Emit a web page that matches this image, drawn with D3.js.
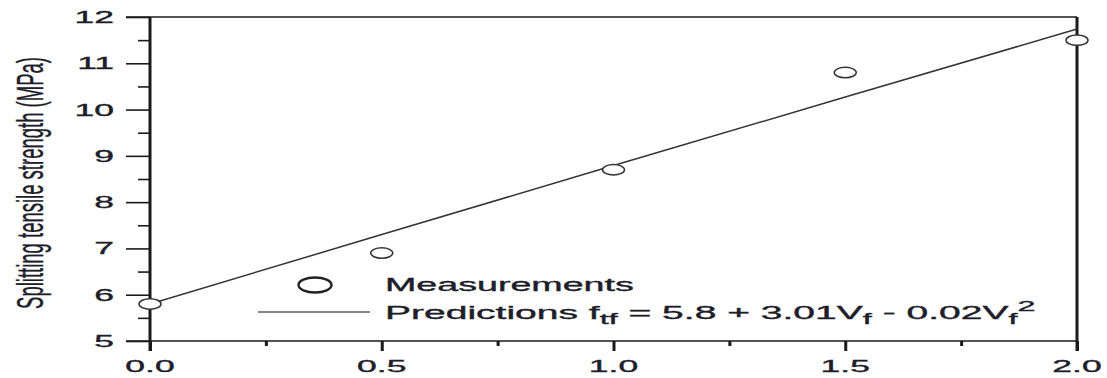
<!DOCTYPE html>
<html>
<head>
<meta charset="utf-8">
<script src="https://cdn.jsdelivr.net/npm/d3@7"></script>
<style>
  html, body { margin: 0; padding: 0; background: #fff; }
  svg { display: block; }
  text { font-family: "Liberation Sans", Arial, Helvetica, sans-serif; fill: #1e1e2a; stroke: #1e1e2a; stroke-width: 0.35; }
</style>
</head>
<body>
<svg id="chart" width="1107" height="378"></svg>
<script>
// Fibre volume fraction (%) and measured splitting tensile strength (MPa)
const fibreContent = [0.0, 0.5, 1.0, 1.5, 2.0];
const measured = [5.8, 6.9, 8.7, 10.8, 11.5];
// f_tf = 5.8 + 3.01 Vf - 0.02 Vf^2 evaluated at each fibre content
const predicted = [5.8, 7.3, 8.79, 10.27, 11.74];

const xMajorTicks = [0.0, 0.5, 1.0, 1.5, 2.0];
const xMinorTicks = [0.25, 0.75, 1.25, 1.75];
const xTickLabels = ["0.0", "0.5", "1.0", "1.5", "2.0"];
const yMajorTicks = [5, 6, 7, 8, 9, 10, 11, 12];
const yMinorTicks = [5.5, 6.5, 7.5, 8.5, 9.5, 10.5, 11.5];
const yTickLabels = ["5", "6", "7", "8", "9", "10", "11", "12"];

const SX = 2.15; // horizontal stretch of the printed figure

const svg = d3.select("#chart");
const x = d3.scaleLinear().domain([0, 2]).range([150, 1077]);
const y = d3.scaleLinear().domain([5, 12]).range([341, 17]);

const ink = "#1a1a1a";

// Y axis ticks (major and minor) drawn with d3 axes
const yMajor = svg.append("g").attr("transform", `translate(${x(0)},0)`)
  .call(d3.axisLeft(y).tickValues(yMajorTicks).tickSize(24).tickFormat(""));
const yMinor = svg.append("g").attr("transform", `translate(${x(0)},0)`)
  .call(d3.axisLeft(y).tickValues(yMinorTicks).tickSize(12).tickFormat(""));
// X axis ticks
const xMajor = svg.append("g").attr("transform", `translate(0,${y(5)})`)
  .call(d3.axisBottom(x).tickValues(xMajorTicks).tickSize(10).tickFormat(""));
const xMinor = svg.append("g").attr("transform", `translate(0,${y(5)})`)
  .call(d3.axisBottom(x).tickValues(xMinorTicks).tickSize(5).tickFormat(""));

[yMajor, yMinor].forEach(g => {
  g.select(".domain").remove();
  g.selectAll(".tick line").attr("stroke", ink).attr("stroke-width", 1.6);
});
[xMajor, xMinor].forEach(g => {
  g.select(".domain").remove();
  g.selectAll(".tick line").attr("stroke", ink).attr("stroke-width", 3);
});

// Frame: horizontal lines at 5 and 12, vertical lines at 0 and 2
svg.append("line")
  .attr("x1", x(0) - 24).attr("x2", x(2)).attr("y1", y(12)).attr("y2", y(12))
  .attr("stroke", ink).attr("stroke-width", 1.6);
svg.append("line")
  .attr("x1", x(0) - 24).attr("x2", x(2)).attr("y1", y(5)).attr("y2", y(5))
  .attr("stroke", ink).attr("stroke-width", 1.6);
svg.append("line")
  .attr("x1", x(0)).attr("x2", x(0)).attr("y1", y(12)).attr("y2", y(5) + 10)
  .attr("stroke", ink).attr("stroke-width", 3);
svg.append("line")
  .attr("x1", x(2)).attr("x2", x(2)).attr("y1", y(12)).attr("y2", y(5) + 10)
  .attr("stroke", ink).attr("stroke-width", 3);

// Tick labels
svg.append("g").selectAll("text").data(yMajorTicks).join("text")
  .attr("transform", d => `translate(${x(0) - 36},${y(d) + 6}) scale(${SX},1)`)
  .attr("text-anchor", "end")
  .attr("font-size", 16.5)
  .text((d, i) => yTickLabels[i]);

svg.append("g").selectAll("text").data(xMajorTicks).join("text")
  .attr("transform", d => `translate(${x(d)},${y(5) + 31}) scale(${SX},1)`)
  .attr("text-anchor", "middle")
  .attr("font-size", 16.5)
  .text((d, i) => xTickLabels[i]);

// Y axis title
svg.append("text")
  .attr("transform", `translate(43,183) scale(2,1) rotate(-90)`)
  .attr("text-anchor", "middle")
  .attr("font-size", 18.5)
  .style("stroke-width", 0.2)
  .text("Splitting tensile strength (MPa)");

// Prediction curve
const line = d3.line().x((d, i) => x(fibreContent[i])).y(d => y(d));
svg.append("path")
  .datum(predicted)
  .attr("d", line)
  .attr("fill", "none")
  .attr("stroke", "#333")
  .attr("stroke-width", 1.5);

// Measurements
svg.append("g").selectAll("ellipse").data(measured).join("ellipse")
  .attr("cx", (d, i) => x(fibreContent[i]))
  .attr("cy", d => y(d))
  .attr("rx", 11)
  .attr("ry", 5.2)
  .attr("fill", "#fff")
  .attr("stroke", "#333")
  .attr("stroke-width", 1.5);

// Legend
const legend = svg.append("g");
legend.append("ellipse")
  .attr("cx", 315).attr("cy", 285).attr("rx", 16.5).attr("ry", 7.5)
  .attr("fill", "none").attr("stroke", "#222").attr("stroke-width", 2.4);
legend.append("text")
  .attr("transform", `translate(385,291) scale(${SX},1)`)
  .attr("font-size", 17.5)
  .text("Measurements");

legend.append("line")
  .attr("x1", 258).attr("x2", 370).attr("y1", 312).attr("y2", 312)
  .attr("stroke", "#888").attr("stroke-width", 2);
const pred = legend.append("text")
  .attr("transform", `translate(385,319) scale(2.23,1)`)
  .attr("font-size", 17.5);
pred.append("tspan").text("Predictions f");
pred.append("tspan").attr("font-size", 14.5).attr("dy", 5).text("tf");
pred.append("tspan").attr("dy", -5).text(" = 5.8 + 3.01V");
pred.append("tspan").attr("font-size", 14.5).attr("dy", 5).text("f");
pred.append("tspan").attr("dy", -5).text(" - 0.02V");
pred.append("tspan").attr("font-size", 14.5).attr("dy", 5).text("f");
pred.append("tspan").attr("font-size", 14.5).attr("dy", -13).text("2");
</script>
</body>
</html>
